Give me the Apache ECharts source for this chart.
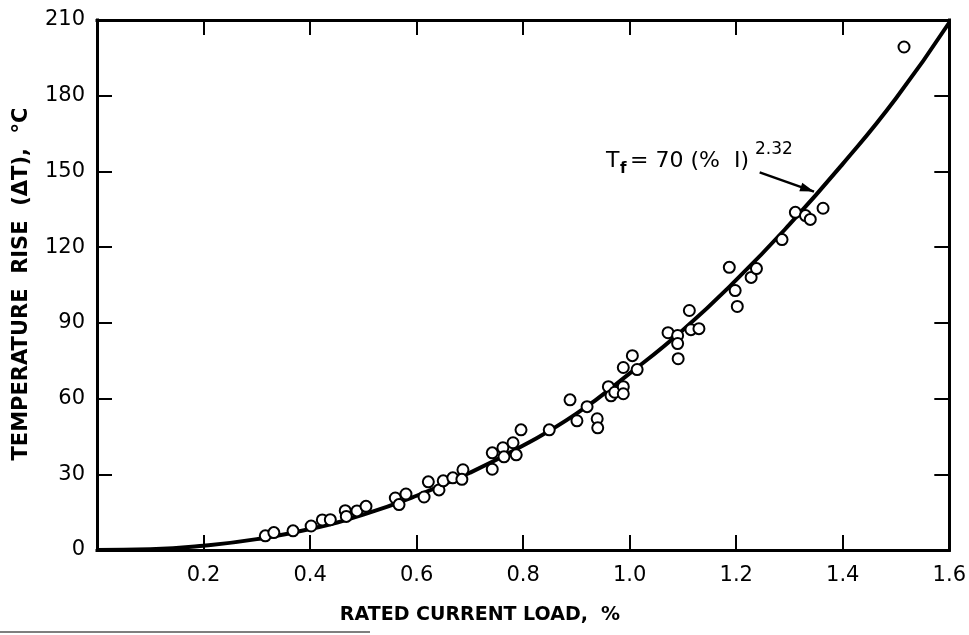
<!DOCTYPE html>
<html><head><meta charset="utf-8">
<script src="https://cdn.jsdelivr.net/npm/echarts@6/dist/echarts.min.js"></script>
<style>html,body{margin:0;padding:0;background:#fff}#c{width:969px;height:635px}</style>
</head><body><div id="c"></div>
<script>
// ---- data ----
const xTickLabels = ['', '0.2', '0.4', '0.6', '0.8', '1.0', '1.2', '1.4', '1.6'];
const yTickLabels = ['0', '30', '60', '90', '120', '150', '180', '210'];

// fitted curve
const curveX = [0, 0.1, 0.2, 0.3, 0.4, 0.5, 0.6, 0.7, 0.8, 0.9, 1.0, 1.1, 1.2, 1.3, 1.4, 1.5, 1.6];
const curveY = [0, 0.3, 1.7, 4.3, 8.3, 14.0, 21.5, 30.6, 41.4, 54.0, 70.0, 87.2, 107, 129, 153, 179, 209];

// measured points (open circles)
const pointsX = [0.316, 0.332, 0.368, 0.402, 0.423, 0.438, 0.466, 0.468, 0.488, 0.505, 0.560, 0.567, 0.580,
  0.614, 0.622, 0.642, 0.650, 0.668, 0.687, 0.685,
  0.742, 0.742, 0.762, 0.764, 0.781, 0.787, 0.796, 0.849,
  0.888, 0.901, 0.920, 0.939, 0.940, 0.960, 0.965, 0.972, 0.988, 0.988, 0.988, 1.005, 1.014,
  1.072, 1.090, 1.090, 1.091, 1.112, 1.115, 1.130,
  1.187, 1.198, 1.202, 1.228, 1.238, 1.286,
  1.311, 1.330, 1.339, 1.363, 1.515];
const pointsY = [5.6, 6.9, 7.6, 9.5, 11.9, 12.0, 15.6, 13.3, 15.5, 17.3, 20.6, 18.0, 22.2,
  21.0, 27.0, 23.8, 27.4, 28.6, 31.8, 28.0,
  38.5, 32.0, 40.5, 36.9, 42.5, 37.7, 47.6, 47.6,
  59.5, 51.2, 56.8, 52.0, 48.4, 64.7, 61.1, 62.5, 64.7, 61.9, 72.3, 77.0, 71.5,
  86.1, 85.0, 81.8, 75.8, 94.9, 87.3, 87.7,
  112.0, 102.8, 96.5, 108.0, 111.5, 123.0,
  133.8, 132.5, 131.0, 135.4, 199.3];

// annotation arrow (data coordinates)
const arrowFrom = [1.244, 149.6];
const arrowTo = [1.346, 142.0];

// ---- chart ----
const FONT = 'DejaVu Sans';
const curveData = curveX.map((x, i) => [x, curveY[i]]);
const pointData = pointsX.map((x, i) => [x, pointsY[i]]);

const axisLine = { show: true, onZero: false, lineStyle: { color: '#000', width: 3, cap: 'square' } };
const axisTick = { show: true, inside: true, length: 15, lineStyle: { color: '#000', width: 2 } };

function txt(x, y, text, font) {
  return { type: 'text', x: x, y: y, z: 100, style: { text: text, fill: '#000', font: font, align: 'left', verticalAlign: 'middle' } };
}

const chart = echarts.init(document.getElementById('c'), null, { renderer: 'canvas' });
const graphics = [
  {
    type: 'text', x: 22, y: 284, rotation: Math.PI / 2,
    style: { text: 'TEMPERATURE  RISE  (\u0394T),  \u00B0C', fill: '#000', font: 'bold 21px "' + FONT + '"', align: 'center', verticalAlign: 'middle' }
  },
  {
    type: 'text', x: 480, y: 615,
    style: { text: 'RATED CURRENT LOAD,  %', fill: '#000', font: 'bold 19px "' + FONT + '"', align: 'center', verticalAlign: 'middle' }
  },
  txt(606, 161, 'T', '22px "' + FONT + '"'),
  txt(620, 169, 'f', 'bold 15px "' + FONT + '"'),
  txt(630, 161, '= 70 (%  I)', '22px "' + FONT + '"'),
  txt(755, 150, '2.32', '17px "' + FONT + '"'),
  { type: 'line', shape: { x1: 0, y1: 632, x2: 370, y2: 632 }, style: { stroke: '#555', lineWidth: 1.5 } }
];
chart.setOption({
  animation: false,
  backgroundColor: '#fff',
  grid: { left: 97, right: 19, top: 20, bottom: 85, containLabel: false },
  xAxis: [
    {
      type: 'value', min: 0, max: 1.6, interval: 0.2, position: 'bottom',
      axisLine, axisTick, splitLine: { show: false },
      axisLabel: {
        show: true, margin: 15, color: '#000', fontFamily: FONT, fontSize: 21,
        formatter: v => xTickLabels[Math.round(v / 0.2)]
      }
    },
    {
      type: 'value', min: 0, max: 1.6, interval: 0.2, position: 'top',
      axisLine, axisTick, splitLine: { show: false }, axisLabel: { show: false }
    }
  ],
  yAxis: [
    {
      type: 'value', min: 0, max: 210, interval: 30, position: 'left',
      axisLine, axisTick, splitLine: { show: false },
      axisLabel: {
        show: true, margin: 12, color: '#000', fontFamily: FONT, fontSize: 21,
        formatter: v => yTickLabels[Math.round(v / 30)]
      }
    },
    {
      type: 'value', min: 0, max: 210, interval: 30, position: 'right',
      axisLine, axisTick, splitLine: { show: false }, axisLabel: { show: false }
    }
  ],
  series: [
    {
      type: 'line', data: curveData, smooth: true, showSymbol: false, symbol: 'none',
      lineStyle: { color: '#000', width: 4 }, z: 2, silent: true,
      markLine: {
        silent: true, symbol: ['none', 'none'],
        lineStyle: { color: '#000', width: 2.5, type: 'solid' },
        label: { show: false },
        data: [[{ coord: arrowFrom }, { coord: arrowTo }]]
      }
    },
    {
      type: 'scatter', data: pointData, symbol: 'circle', symbolSize: 11,
      itemStyle: { color: '#fff', borderColor: '#000', borderWidth: 2, opacity: 1 },
      z: 3, silent: true
    }
  ],
  graphic: graphics
});

// arrowhead at the end of the annotation leader, placed through the chart's own scales
const p0 = chart.convertToPixel({ gridIndex: 0 }, arrowFrom);
const p1 = chart.convertToPixel({ gridIndex: 0 }, arrowTo);
const dx = p1[0] - p0[0], dy = p1[1] - p0[1];
const len = Math.sqrt(dx * dx + dy * dy);
const ux = dx / len, uy = dy / len;
const hl = 14, hw = 4.5;
const bx = p1[0] - ux * hl, by = p1[1] - uy * hl;
graphics.push({
  type: 'polygon', z: 101,
  shape: { points: [[p1[0], p1[1]], [bx - uy * hw, by + ux * hw], [bx + uy * hw, by - ux * hw]] },
  style: { fill: '#000' }
});
chart.setOption({ graphic: graphics });
</script>
</body></html>
